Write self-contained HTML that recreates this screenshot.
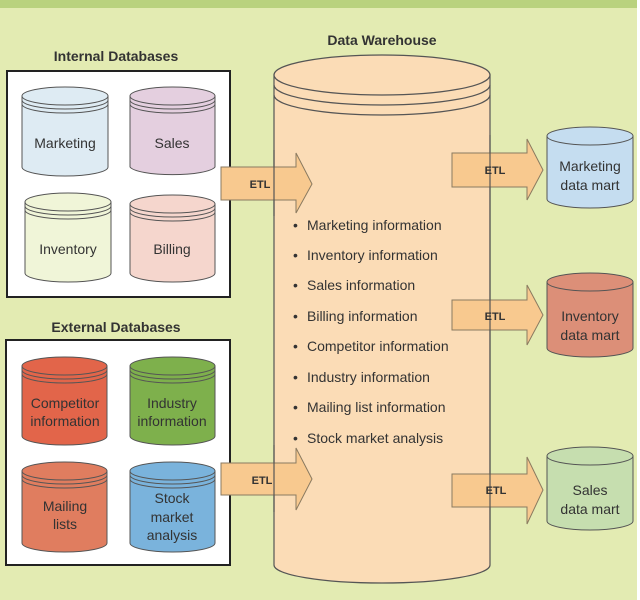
<!DOCTYPE html>
<html><head><style>
html,body{margin:0;padding:0;background:#fff}
svg{display:block}
text{font-family:"Liberation Sans",sans-serif;fill:#333}
</style></head><body>
<svg width="640" height="600" viewBox="0 0 640 600" xmlns="http://www.w3.org/2000/svg">
<defs>
<g id="n"></g>
</defs>
<rect x="0" y="0" width="637" height="600" fill="#e3ebb2"/>
<rect x="0" y="0" width="637" height="8" fill="#b9d27e"/>
<rect x="637" y="0" width="3" height="600" fill="#fff"/>

<text x="116" y="61" font-size="14" font-weight="bold" text-anchor="middle" fill="#222">Internal Databases</text>
<rect x="7" y="71" width="223" height="226" fill="#fff" stroke="#222" stroke-width="2"/>
<text x="116" y="332" font-size="14" font-weight="bold" text-anchor="middle" fill="#222">External Databases</text>
<rect x="6" y="340" width="224" height="225" fill="#fff" stroke="#222" stroke-width="2"/>

<text x="382" y="45" font-size="14" font-weight="bold" text-anchor="middle" fill="#222">Data Warehouse</text>

<!-- warehouse -->
<path d="M274 75 L274 565 A108 18 0 0 0 490 565 L490 75 Z" fill="#fbdcb6" stroke="#555" stroke-width="1.2"/>
<ellipse cx="382" cy="75" rx="108" ry="20" fill="#fbdcb6" stroke="#555" stroke-width="1.2"/>
<path d="M274 85 A108 20 0 0 0 490 85 M274 95 A108 20 0 0 0 490 95" fill="none" stroke="#555" stroke-width="1.2"/>

<g font-size="14" fill="#333">
<text x="293" y="230">•</text><text x="307" y="230">Marketing information</text>
<text x="293" y="260">•</text><text x="307" y="260">Inventory information</text>
<text x="293" y="290">•</text><text x="307" y="290">Sales information</text>
<text x="293" y="321">•</text><text x="307" y="321">Billing information</text>
<text x="293" y="351">•</text><text x="307" y="351">Competitor information</text>
<text x="293" y="382">•</text><text x="307" y="382">Industry information</text>
<text x="293" y="412">•</text><text x="307" y="412">Mailing list information</text>
<text x="293" y="443">•</text><text x="307" y="443">Stock market analysis</text>
</g>

<!-- arrows -->
<g fill="#f8c98f" stroke="#8a7a60" stroke-width="1">
<path d="M221 167 L296 167 L296 153 L312 184 L296 213 L296 200 L221 200 Z"/>
<path d="M221 463 L296 463 L296 448 L312 479 L296 510 L296 495 L221 495 Z"/>
<path d="M452 153 L527 153 L527 139 L543 170 L527 200 L527 187 L452 187 Z"/>
<path d="M452 300 L527 300 L527 285 L543 315 L527 345 L527 330 L452 330 Z"/>
<path d="M452 474 L527 474 L527 457 L543 490 L527 524 L527 507 L452 507 Z"/>
</g>
<line x1="274" y1="150" x2="274" y2="216" stroke="#555" stroke-width="1.2"/>
<line x1="274" y1="445" x2="274" y2="512" stroke="#555" stroke-width="1.2"/>
<line x1="490" y1="135" x2="490" y2="530" stroke="#555" stroke-width="1.2"/>
<g font-size="11" font-weight="bold" fill="#222" text-anchor="middle">
<text x="260" y="188">ETL</text>
<text x="262" y="484">ETL</text>
<text x="495" y="174">ETL</text>
<text x="495" y="320">ETL</text>
<text x="496" y="494">ETL</text>
</g>

<!-- small cylinders: function drawn manually -->
<g stroke="#555" stroke-width="1">
<!-- Marketing -->
<path d="M22 96 L22 167 A43 9 0 0 0 108 167 L108 96 Z" fill="#deebf3"/>
<ellipse cx="65" cy="96" rx="43" ry="9" fill="#deebf3"/>
<path d="M22 100 A43 9 0 0 0 108 100 M22 104 A43 9 0 0 0 108 104" fill="none"/>
<!-- Sales -->
<path d="M130 96 L130 167 A43 9 0 0 0 215 167 L215 96 Z" fill="#e4cfdf"/>
<ellipse cx="172.5" cy="96" rx="42.5" ry="9" fill="#e4cfdf"/>
<path d="M130 100 A42.5 9 0 0 0 215 100 M130 104 A42.5 9 0 0 0 215 104" fill="none"/>
<!-- Inventory -->
<path d="M25 202 L25 273 A43 9 0 0 0 111 273 L111 202 Z" fill="#f0f5d8"/>
<ellipse cx="68" cy="202" rx="43" ry="9" fill="#f0f5d8"/>
<path d="M25 206 A43 9 0 0 0 111 206 M25 210 A43 9 0 0 0 111 210" fill="none"/>
<!-- Billing -->
<path d="M130 204 L130 273 A42.5 9 0 0 0 215 273 L215 204 Z" fill="#f5d6cd"/>
<ellipse cx="172.5" cy="204" rx="42.5" ry="9" fill="#f5d6cd"/>
<path d="M130 208 A42.5 9 0 0 0 215 208 M130 212 A42.5 9 0 0 0 215 212" fill="none"/>
<!-- Competitor -->
<path d="M22 366 L22 436 A42.5 9 0 0 0 107 436 L107 366 Z" fill="#e2654a"/>
<ellipse cx="64.5" cy="366" rx="42.5" ry="9" fill="#e2654a"/>
<path d="M22 370 A42.5 9 0 0 0 107 370 M22 374 A42.5 9 0 0 0 107 374" fill="none"/>
<!-- Industry -->
<path d="M130 366 L130 436 A42.5 9 0 0 0 215 436 L215 366 Z" fill="#7eb04c"/>
<ellipse cx="172.5" cy="366" rx="42.5" ry="9" fill="#7eb04c"/>
<path d="M130 370 A42.5 9 0 0 0 215 370 M130 374 A42.5 9 0 0 0 215 374" fill="none"/>
<!-- Mailing -->
<path d="M22 471 L22 543 A42.5 9 0 0 0 107 543 L107 471 Z" fill="#e07d5f"/>
<ellipse cx="64.5" cy="471" rx="42.5" ry="9" fill="#e07d5f"/>
<path d="M22 475 A42.5 9 0 0 0 107 475 M22 479 A42.5 9 0 0 0 107 479" fill="none"/>
<!-- Stock -->
<path d="M130 471 L130 543 A42.5 9 0 0 0 215 543 L215 471 Z" fill="#7ab3dc"/>
<ellipse cx="172.5" cy="471" rx="42.5" ry="9" fill="#7ab3dc"/>
<path d="M130 475 A42.5 9 0 0 0 215 475 M130 479 A42.5 9 0 0 0 215 479" fill="none"/>
<!-- data marts -->
<path d="M547 136 L547 199 A43 9 0 0 0 633 199 L633 136 Z" fill="#c5ddf0"/>
<ellipse cx="590" cy="136" rx="43" ry="9" fill="#c5ddf0"/>
<path d="M547 282 L547 348 A43 9 0 0 0 633 348 L633 282 Z" fill="#dc8f78"/>
<ellipse cx="590" cy="282" rx="43" ry="9" fill="#dc8f78"/>
<path d="M547 456 L547 521 A43 9 0 0 0 633 521 L633 456 Z" fill="#c6deaf"/>
<ellipse cx="590" cy="456" rx="43" ry="9" fill="#c6deaf"/>
</g>

<g font-size="14" text-anchor="middle" fill="#333">
<text x="65" y="148">Marketing</text>
<text x="172" y="148">Sales</text>
<text x="68" y="254">Inventory</text>
<text x="172" y="254">Billing</text>
<text x="65" y="408">Competitor</text>
<text x="65" y="426">information</text>
<text x="172" y="408">Industry</text>
<text x="172" y="426">information</text>
<text x="65" y="511">Mailing</text>
<text x="65" y="529">lists</text>
<text x="172" y="503">Stock</text>
<text x="172" y="522">market</text>
<text x="172" y="540">analysis</text>
<text x="590" y="171">Marketing</text>
<text x="590" y="190">data mart</text>
<text x="590" y="321">Inventory</text>
<text x="590" y="340">data mart</text>
<text x="590" y="495">Sales</text>
<text x="590" y="514">data mart</text>
</g>
</svg>
</body></html>
